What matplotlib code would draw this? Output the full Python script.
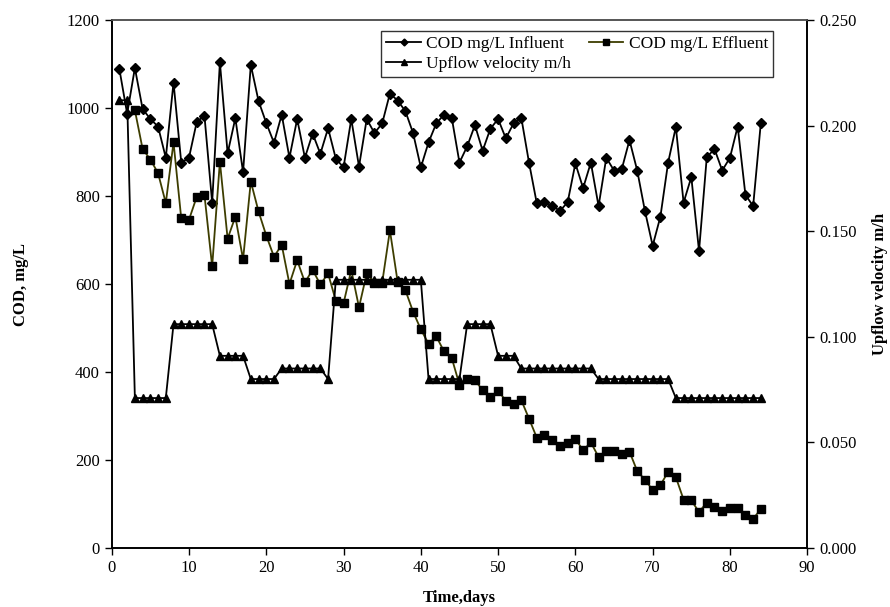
import matplotlib
matplotlib.use("Agg")
import matplotlib.pyplot as plt
from matplotlib.ticker import FormatStrFormatter

plt.rcParams['font.family'] = ['Liberation Serif', 'DejaVu Serif']

# days of operation
days = list(range(1, 85))

cod_influent = [1088, 987, 1091, 998, 975, 958, 887, 1058, 876, 887,
                968, 983, 785, 1104, 897, 977, 854, 1098, 1016, 966,
                921, 985, 887, 975, 887, 942, 896, 954, 885, 865,
                975, 867, 975, 943, 965, 1033, 1017, 993, 943, 865,
                922, 965, 985, 978, 876, 913, 961, 903, 953, 975,
                931, 965, 978, 876, 784, 786, 778, 766, 786, 874,
                818, 876, 777, 887, 858, 861, 927, 858, 766, 687,
                753, 876, 957, 785, 843, 675, 888, 907, 858, 887,
                958, 803, 777, 967]

# effluent starts on day 3
eff_days = list(range(3, 85))
cod_effluent = [995, 907, 883, 852, 784, 922, 749, 746, 798, 803,
                640, 878, 703, 753, 656, 833, 765, 710, 662, 689,
                600, 654, 604, 632, 599, 624, 562, 556, 632, 547,
                624, 603, 603, 722, 605, 586, 537, 497, 464, 481,
                447, 432, 371, 385, 381, 359, 344, 357, 335, 328,
                336, 294, 251, 256, 245, 231, 239, 248, 222, 240,
                207, 221, 220, 213, 219, 175, 155, 132, 143, 173,
                161, 110, 108, 82, 103, 94, 85, 90, 90, 75,
                66, 89]

upflow = [0.212, 0.212,
          0.071, 0.071, 0.071, 0.071, 0.071,
          0.106, 0.106, 0.106, 0.106, 0.106, 0.106,
          0.091, 0.091, 0.091, 0.091,
          0.080, 0.080, 0.080, 0.080,
          0.085, 0.085, 0.085, 0.085, 0.085, 0.085,
          0.080,
          0.127, 0.127, 0.127, 0.127, 0.127, 0.127, 0.127, 0.127, 0.127, 0.127, 0.127, 0.127,
          0.080, 0.080, 0.080, 0.080, 0.080,
          0.106, 0.106, 0.106, 0.106,
          0.091, 0.091, 0.091,
          0.085, 0.085, 0.085, 0.085, 0.085, 0.085, 0.085, 0.085, 0.085, 0.085,
          0.080, 0.080, 0.080, 0.080, 0.080, 0.080, 0.080, 0.080, 0.080, 0.080,
          0.071, 0.071, 0.071, 0.071, 0.071, 0.071, 0.071, 0.071, 0.071, 0.071, 0.071, 0.071]

fig = plt.figure(figsize=(8.9, 6.07), dpi=100)
ax = fig.add_axes([0.1255, 0.0972, 0.7815, 0.8698])
ax2 = ax.twinx()

l1, = ax.plot(days, cod_influent, color='black', lw=1.3, marker='D', ms=5,
              label='COD mg/L Influent')
l2, = ax.plot(eff_days, cod_effluent, color='#3d3d00', lw=1.3, marker='s', ms=6,
              mfc='black', mec='black', label='COD mg/L Effluent')
l3, = ax2.plot(days, upflow, color='black', lw=1.3, marker='^', ms=6,
               label='Upflow velocity m/h')

ax.set_xlim(0, 90)
ax.set_ylim(0, 1200)
ax.set_xticks(range(0, 91, 10))
ax.set_yticks(range(0, 1201, 200))
ax2.set_ylim(0, 0.25)
ax2.set_yticks([0, 0.05, 0.10, 0.15, 0.20, 0.25])
ax2.yaxis.set_major_formatter(FormatStrFormatter('%.3f'))

for a in (ax, ax2):
    a.tick_params(direction='out', length=5, width=1, labelsize=12, colors='black')
    for s in a.spines.values():
        s.set_linewidth(1.2)
ax.spines['top'].set_color('#555555')
ax2.spines['top'].set_color('#555555')

ax.set_xlabel('Time,days', fontsize=12, fontweight='bold', labelpad=10)
ax.set_ylabel('COD, mg/L', fontsize=12, fontweight='bold', labelpad=27)
ax2.set_ylabel('Upflow velocity m/h', fontsize=12, fontweight='bold', labelpad=11)

leg = ax2.legend([l1, l3, l2], [l1.get_label(), l3.get_label(), l2.get_label()],
                 ncol=2, loc='upper right', bbox_to_anchor=(0.951, 0.979),
                 borderaxespad=0, fontsize=12.5, frameon=True, fancybox=False,
                 handlelength=2.0, handletextpad=0.3, columnspacing=1.0,
                 borderpad=0.3, labelspacing=0.2, markerscale=0.7)
leg.get_frame().set_edgecolor('black')
leg.get_frame().set_linewidth(1.0)

fig.savefig('out.png', dpi=100)
